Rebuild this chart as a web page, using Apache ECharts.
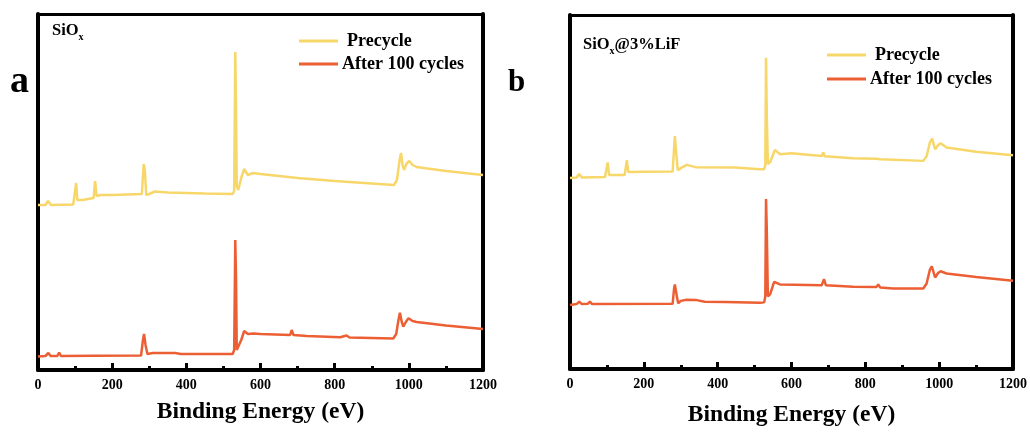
<!DOCTYPE html>
<html>
<head>
<meta charset="utf-8">
<script src="https://cdn.jsdelivr.net/npm/echarts@6/dist/echarts.min.js"></script>
<style>
html,body{margin:0;padding:0;background:#fff;}
#c{width:1030px;height:432px;}
</style>
</head>
<body>
<div id="c"></div>
<script>
// X-axis ticks (binding energy, eV)
const energyTicks = [0, 200, 400, 600, 800, 1000, 1200];
const seriesNames = ['Precycle', 'After 100 cycles'];
const panelLabels = ['a', 'b'];
const xAxisTitle = 'Binding Energy (eV)';

// Panel a: SiOx — [binding energy (eV), intensity (a.u.)]
const precycleA = [[0,165],[20,165],[27,169],[35,165],[95,165.5],[100,166],[103,187],[106,170],[120,170],[150,172],[154,189],[158,174],[170,175],[200,175],[280,176],[285,206],[288,200],[292,175],[300,176],[315,178.5],[350,177.5],[450,176.5],[525,176],[529,179],[532,318],[534,260],[536,184],[540,180],[548,192],[556,201],[566,195],[580,197],[600,196],[700,192],[800,189],[900,186.5],[960,185],[968,190],[975,210],[979,217],[983,205],[987,200],[993,206],[1001,209],[1010,205],[1021,203],[1050,201.5],[1100,199],[1150,197],[1200,195]];
const afterA = [[0,13.5],[20,14],[28,17],[34,14],[52,14],[57,17.5],[62,14],[150,14.3],[278,14.5],[283,30],[286,36],[290,25],[295,16],[310,17],[370,17],[385,16],[525,16],[529,20],[532,130],[534,93],[536,20],[540,18],[548,30],[556,39],[566,36],[580,36.5],[600,36],[680,35],[684,40],[689,35],[725,34],[815,32.7],[832,34.5],[840,32.5],[958,31.5],[966,36],[972,50],[976,57.3],[981,48],[985,43.3],[992,48],[999,51.7],[1010,49],[1021,48],[1100,44.5],[1200,41]];

// Panel b: SiOx@3%LiF
const precycleB = [[0,192],[18,192.7],[25,196],[32,192.7],[95,193],[102,207.7],[106,195],[148,195],[154,210],[158,198],[200,198.3],[278,198.5],[284,234.3],[288,216],[292,200],[300,202],[316,205.3],[340,203],[447,202.7],[515,201],[526,201],[529,205],[531,313],[533,256],[536,206],[542,208],[555,220.3],[569,216],[600,217],[682,214.3],[686,217.7],[690,214],[767,212],[830,211.5],[835,212.7],[840,211],[957,209.3],[966,214],[975,228],[981,231.7],[989,221],[997,225],[1004,227],[1020,222.7],[1100,218.5],[1200,215]];
const afterB = [[0,64.3],[18,65.3],[25,67.7],[32,65.3],[48,65.5],[54,67.7],[60,65.3],[278,65.5],[282,81],[284,85],[289,74],[293,66],[300,68.5],[316,69.7],[340,69.5],[365,67.7],[420,67.5],[515,66.7],[526,67],[529,73],[531,171],[533,141],[536,73],[542,75],[553,87.7],[569,85],[682,84.3],[688,90.3],[693,84.3],[767,82.7],[830,82.5],[835,85],[840,82],[875,81],[957,81],[966,86],[975,100],[980,103.3],[989,92],[997,96.5],[1004,98.3],[1020,96],[1100,92.5],[1200,88.7]];

const sampleTitles = ['SiO', 'SiO'];
const sampleSuffix = ['', '@3%LiF'];

const SERIF = "'Liberation Serif','Times New Roman',serif";
const YELLOW = '#F8D76A';
const ORANGE = '#EC5F35';

const grids = [
  {left: 38, top: 14, width: 445, height: 356},
  {left: 570, top: 15, width: 443, height: 356}
];

function xAxes(gi, gap) {
  return [
    {
      gridIndex: gi, type: 'value', position: 'bottom',
      min: energyTicks[0], max: energyTicks[energyTicks.length - 1], interval: 200,
      axisLine: {show: true, onZero: false, lineStyle: {color: '#000', width: 4}},
      axisTick: {show: true, inside: true, length: 7, lineStyle: {color: '#000', width: 3}},
      minorTick: {show: true, splitNumber: 2, length: 4, lineStyle: {color: '#000', width: 3}},
      splitLine: {show: false},
      axisLabel: {color: '#000', fontFamily: SERIF, fontWeight: 'bold', fontSize: 14, margin: 8,
        formatter: function (v) { return String(v); }},
      name: xAxisTitle, nameLocation: 'middle', nameGap: gap,
      nameTextStyle: {color: '#000', fontFamily: SERIF, fontWeight: 'bold', fontSize: 23.5}
    },
    {
      gridIndex: gi, type: 'value', position: 'top', min: 0, max: 1200,
      axisLine: {show: true, onZero: false, lineStyle: {color: '#000', width: 3}},
      axisTick: {show: false}, axisLabel: {show: false}, splitLine: {show: false}
    }
  ];
}
function yAxes(gi) {
  return [
    {
      gridIndex: gi, type: 'value', position: 'left', min: 0, max: 356,
      axisLine: {show: true, onZero: false, lineStyle: {color: '#000', width: 4}},
      axisTick: {show: false}, axisLabel: {show: false}, splitLine: {show: false}
    },
    {
      gridIndex: gi, type: 'value', position: 'right', min: 0, max: 356,
      axisLine: {show: true, onZero: false, lineStyle: {color: '#000', width: 4}},
      axisTick: {show: false}, axisLabel: {show: false}, splitLine: {show: false}
    }
  ];
}

function lineSeries(name, data, color, xi, yi) {
  return {
    name: name, type: 'line', data: data, xAxisIndex: xi, yAxisIndex: yi,
    showSymbol: false, symbol: 'none', animation: false,
    lineStyle: {color: color, width: 2.5}, itemStyle: {color: color}
  };
}

const legendText = {color: '#000', fontFamily: SERIF, fontWeight: 'bold', fontSize: 18, lineHeight: 18};
function legend(left, top, gap) {
  return {
    left: left, top: top, orient: 'vertical', icon: 'rect',
    itemWidth: 39, itemHeight: 3, itemGap: gap, selectedMode: false,
    textStyle: legendText,
    data: [
      {name: seriesNames[0], textStyle: {padding: [0, 0, 0, 4]}},
      {name: seriesNames[1], textStyle: {padding: [0, 0, 0, -1]}}
    ]
  };
}

function sampleText(i, x, y) {
  return {
    type: 'text', left: x, top: y, z: 10,
    style: {
      text: '{m|' + sampleTitles[i] + '}{s|x}{m|' + sampleSuffix[i] + '}',
      rich: {
        m: {fontFamily: SERIF, fontWeight: 'bold', fontSize: 16.5, fill: '#000', lineHeight: 20, verticalAlign: 'bottom'},
        s: {fontFamily: SERIF, fontWeight: 'bold', fontSize: 10, fill: '#000', lineHeight: 20, verticalAlign: 'bottom', padding: [0, 0, -3, 0]}
      }
    }
  };
}

const option = {
  animation: false,
  backgroundColor: '#fff',
  grid: grids,
  xAxis: [...xAxes(0, 30), ...xAxes(1, 34)],
  yAxis: [...yAxes(0), ...yAxes(1)],
  legend: [legend(294, 27, 5), legend(822, 41, 6)],
  series: [
    lineSeries(seriesNames[0], precycleA, YELLOW, 0, 0),
    lineSeries(seriesNames[1], afterA, ORANGE, 0, 0),
    lineSeries(seriesNames[0], precycleB, YELLOW, 2, 2),
    lineSeries(seriesNames[1], afterB, ORANGE, 2, 2)
  ],
  graphic: [
    {type: 'text', left: 10, top: 63, style: {text: panelLabels[0], fontFamily: SERIF, fontWeight: 'bold', fontSize: 38, fill: '#000'}},
    {type: 'text', left: 508, top: 67, style: {text: panelLabels[1], fontFamily: SERIF, fontWeight: 'bold', fontSize: 31, fill: '#000'}},
    sampleText(0, 52, 22),
    sampleText(1, 583, 36)
  ]
};

const chart = echarts.init(document.getElementById('c'), null, {renderer: 'canvas'});
chart.setOption(option);
</script>
</body>
</html>
